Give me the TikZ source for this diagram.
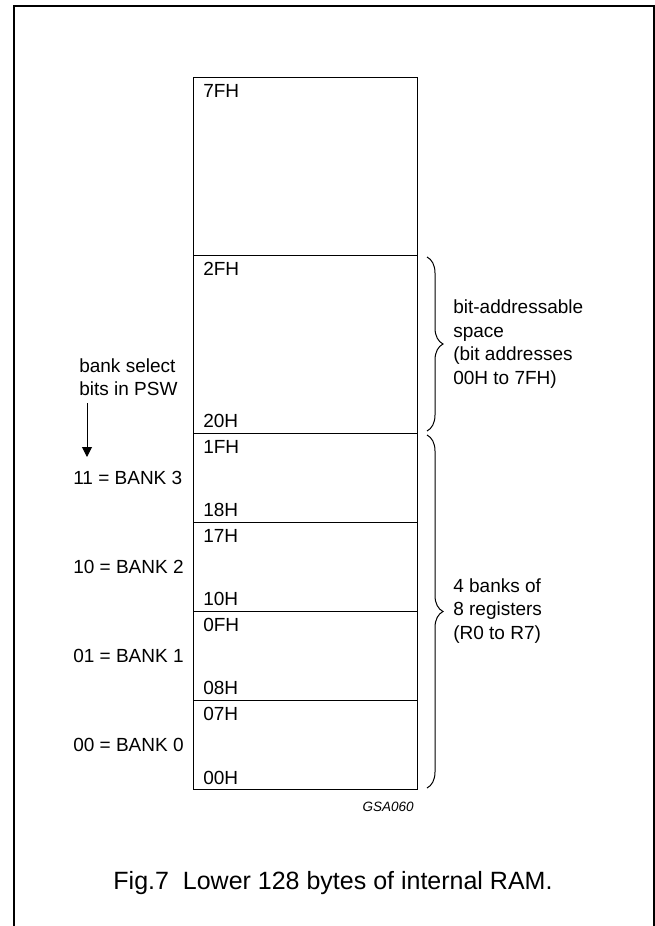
\documentclass[tikz,border=0pt]{standalone}
\usepackage{fontspec}
\setmainfont{Liberation Sans}
\usepackage{tikz}
\usetikzlibrary{arrows.meta,decorations.pathreplacing}
\tikzstyle{cell} = [rectangle, draw, line width=1pt, minimum width=224pt, inner sep=0pt, anchor=north west]
\tikzstyle{addr} = [anchor=west, inner sep=0pt, font=\fontsize{19}{23.5}\selectfont]
\tikzstyle{txt} = [anchor=west, inner sep=0pt, align=left, font=\fontsize{19}{23.5}\selectfont]
\tikzstyle{curly} = [decorate, decoration={brace, amplitude=16pt}, line width=1pt]

\begin{document}
\begin{tikzpicture}[x=1pt,y=-1pt,>=stealth,semithick]
  \useasboundingbox (0,0) rectangle (655,926);
  \draw[line width=1.2pt] (14,926) -- (14,6) -- (654,6) -- (654,926);

  % the memory map
  \node[cell, minimum height=178pt] (Top) at (193,77) {};
  \node[cell, minimum height=178pt] (BitSp) at (193,255) {};
  \node[cell, minimum height=89pt] (Bank_3) at (193,433) {};
  \node[cell, minimum height=89pt] (Bank_2) at (193,522) {};
  \node[cell, minimum height=89pt] (Bank_1) at (193,611) {};
  \node[cell, minimum height=89pt] (Bank_0) at (193,700) {};

  \node[addr] (A_7F) at (203,91) {7FH};
  \node[addr] (A_2F) at (203,269) {2FH};
  \node[addr] (A_20) at (203,421) {20H};
  \node[addr] (A_1F) at (203,447) {1FH};
  \node[addr] (A_18) at (203,510) {18H};
  \node[addr] (A_17) at (203,536) {17H};
  \node[addr] (A_10) at (203,599) {10H};
  \node[addr] (A_0F) at (203,625) {0FH};
  \node[addr] (A_08) at (203,688) {08H};
  \node[addr] (A_07) at (203,714) {07H};
  \node[addr] (A_00) at (203,778) {00H};

  % bank select
  \node[txt] (Sel) at (79,377) {bank select\\bits in PSW};
  \node[txt] (B_3) at (73,478) {11 = BANK 3};
  \node[txt] (B_2) at (73,567) {10 = BANK 2};
  \node[txt] (B_1) at (73,656) {01 = BANK 1};
  \node[txt] (B_0) at (73,745) {00 = BANK 0};
  \coordinate (Arr_s) at (87,403);
  \coordinate (Arr_e) at (87,457);
  \path[-{Triangle[length=10pt,width=10pt]}, line width=1pt] (Arr_s) edge (Arr_e);

  % braces
  \coordinate (Br1_a) at (427,257);
  \coordinate (Br1_b) at (427,431);
  \coordinate (Br2_a) at (427,435);
  \coordinate (Br2_b) at (427,788);
  \draw[curly] (Br1_a) -- (Br1_b);
  \draw[curly] (Br2_a) -- (Br2_b);
  \node[txt] (BitTxt) at (453,344) {bit-addressable\\space\\(bit addresses\\00H to 7FH)};
  \node[txt] (RegTxt) at (453,611) {4 banks of\\8 registers\\(R0 to R7)};

  \node[anchor=east, inner sep=0pt, font=\fontsize{13.5}{16}\itshape] (Code) at (414,807) {GSA060};
  \node[inner sep=0pt, font=\fontsize{25}{30}\selectfont] (Caption) at (333,883) {Fig.7\ \ Lower 128 bytes of internal RAM.};
\end{tikzpicture}
\end{document}
